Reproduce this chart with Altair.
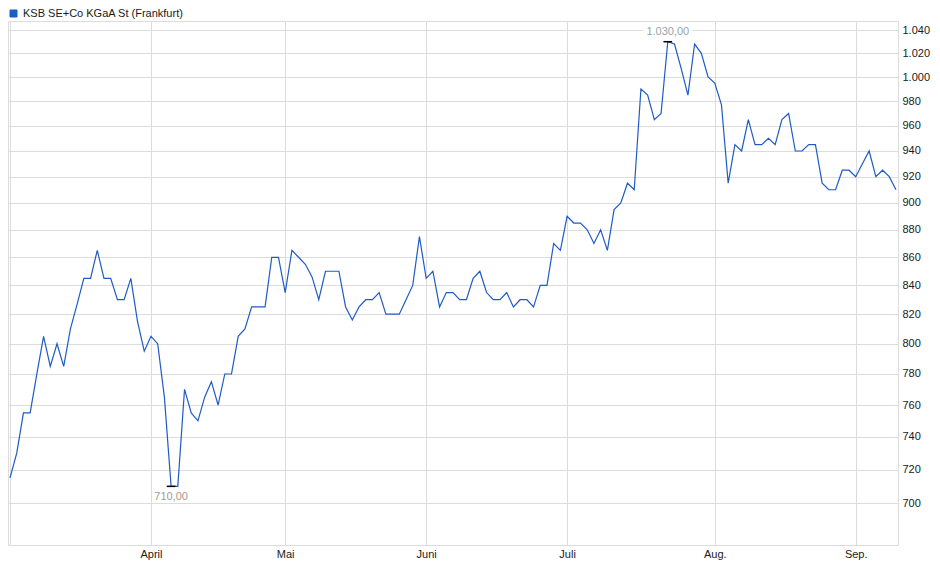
import altair as alt
import pandas as pd

# ---- data (one value per trading day) ----
series_name = "KSB SE+Co KGaA St (Frankfurt)"
prices = [
    715, 730, 755, 755, 780, 805, 785, 800, 785, 810,
    827, 845, 845, 865, 845, 845, 830, 830, 845, 815,
    795, 805, 800, 765, 710, 710, 770, 755, 750, 765,
    775, 760, 780, 780, 805, 810, 825, 825, 825, 860,
    860, 835, 865, 860, 855, 846, 830, 850, 850, 850,
    825, 816, 825, 830, 830, 835, 820, 820, 820, 830,
    840, 875, 845, 850, 825, 835, 835, 830, 830, 845,
    850, 835, 830, 830, 835, 825, 830, 830, 825, 840,
    840, 870, 865, 890, 885, 885, 880, 870, 880, 865,
    895, 900, 915, 910, 990, 985, 965, 970, 1030, 1028,
    1007, 985, 1028, 1020, 1000, 995, 977, 915, 945, 940,
    965, 945, 945, 950, 945, 965, 970, 940, 940, 945,
    945, 915, 910, 910, 925, 925, 920, 930, 940, 920,
    925, 920, 910,
]
month_idx = [0, 21, 41, 62, 83, 105, 126]
month_names = ["", "April", "Mai", "Juni", "Juli", "Aug.", "Sep."]
y_ticks = list(range(700, 1041, 20))

BLUE = "#1f5bc6"
GRID = "#dcdcdc"
FONT = "Liberation Sans"


def de_fmt(v):
    s = f"{v:,.2f}"
    return s.replace(",", "X").replace(".", ",").replace("X", ".")


df = pd.DataFrame({"i": list(range(len(prices))), "price": prices, "series": series_name})

imax = max(range(len(prices)), key=lambda k: prices[k])
imin = min(range(len(prices)), key=lambda k: prices[k])
hi_df = pd.DataFrame({"i": [imax], "price": [prices[imax]], "label": [de_fmt(prices[imax])]})
lo_df = pd.DataFrame({"i": [imin], "price": [prices[imin]], "label": [de_fmt(prices[imin])]})

xs = alt.Scale(domain=[-0.3, len(prices) - 1 + 0.3], nice=False, zero=False)
ys = alt.Scale(type="log", domain=[676, 1048], nice=False)

label_expr = " : ".join(
    f"datum.value == {v} ? '{n}'" for v, n in zip(month_idx, month_names)
) + " : ''"

xax = alt.Axis(
    values=month_idx, labelExpr=label_expr, grid=True, ticks=False, domain=False,
    title=None, labelPadding=3, labelFlush=False, labelOverlap=False,
)
yax = alt.Axis(
    orient="right", values=y_ticks, grid=True, ticks=False, domain=False, title=None,
    labelPadding=4, labelFlush=False, labelOverlap=False,
    labelExpr="replace(format(datum.value, ','), ',', '.')",
)

line = alt.Chart(df).mark_line(strokeWidth=1.2, clip=True).encode(
    x=alt.X("i:Q", scale=xs, axis=xax),
    y=alt.Y("price:Q", scale=ys, axis=yax),
    color=alt.Color(
        "series:N",
        scale=alt.Scale(range=[BLUE]),
        legend=alt.Legend(
            orient="none", legendX=0, legendY=-13, title=None,
            symbolType="square", symbolSize=49, symbolFillColor=BLUE,
            symbolStrokeColor="#15408f", symbolStrokeWidth=1,
            labelFont=FONT, labelFontSize=11, labelColor="#1a1a1a",
            labelOffset=4, padding=0, labelLimit=0,
        ),
    ),
)

hi_box = alt.Chart(hi_df).transform_calculate(
    lo="datum.i - 3.7", hi="datum.i + 3.7"
).mark_rect(color="white", yOffset=-15, y2Offset=-4).encode(
    x=alt.X("lo:Q", scale=xs, axis=xax), x2="hi:Q",
    y=alt.Y("price:Q", scale=ys, axis=yax), y2="price:Q",
)

def tick_layer(d):
    return alt.Chart(d).transform_calculate(
        lo="datum.i - 0.65", hi="datum.i + 0.65"
    ).mark_rule(color="black", strokeWidth=1.5).encode(
        x=alt.X("lo:Q", scale=xs, axis=xax), x2="hi:Q",
        y=alt.Y("price:Q", scale=ys, axis=yax),
    )

hi_text = alt.Chart(hi_df).mark_text(
    dy=-9.5, baseline="middle", font=FONT, fontSize=11, color="#9aa2ad"
).encode(x=alt.X("i:Q", scale=xs, axis=xax), y=alt.Y("price:Q", scale=ys, axis=yax), text="label:N")

lo_text = alt.Chart(lo_df).mark_text(
    dy=10.5, baseline="middle", font=FONT, fontSize=11, color="#a59a90"
).encode(x=alt.X("i:Q", scale=xs, axis=xax), y=alt.Y("price:Q", scale=ys, axis=yax), text="label:N")

chart = alt.layer(
    line, hi_box, tick_layer(hi_df), hi_text, tick_layer(lo_df), lo_text
).properties(
    width=890, height=524,
    padding={"left": 0, "top": 0, "right": 2, "bottom": 2},
).configure_view(
    stroke=GRID, strokeWidth=1
).configure_axis(
    gridColor=GRID, gridWidth=1, labelFont=FONT, labelFontSize=11, labelColor="#1a1a1a",
)

chart.save("out.html", embed_options={"renderer": "svg", "actions": False})
